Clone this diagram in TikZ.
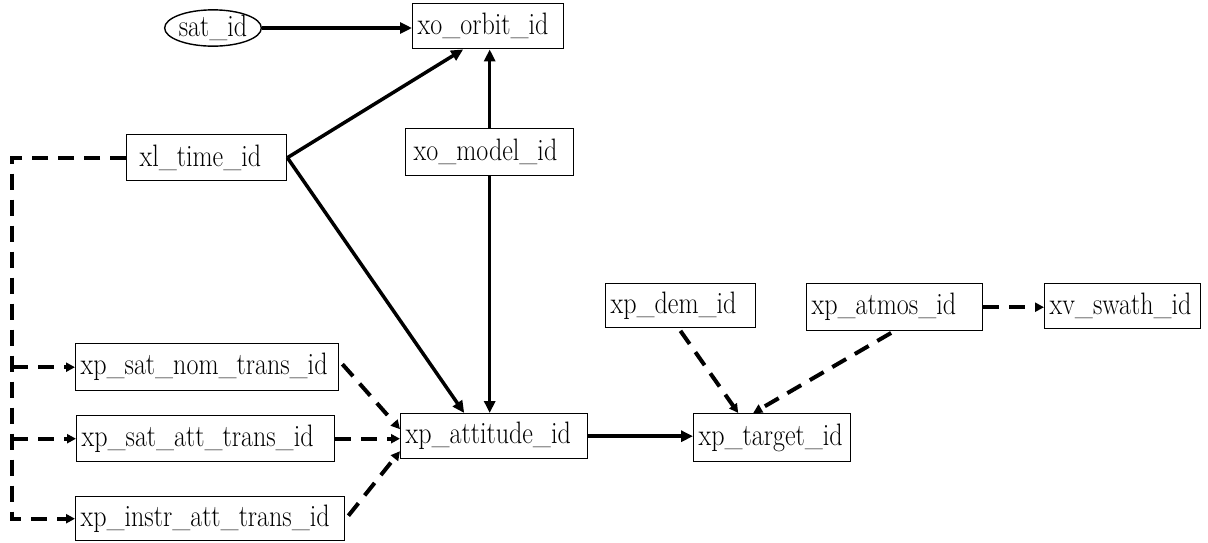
\documentclass[tikz,border=0pt]{standalone}
\usepackage{fontspec}
\newfontfamily\tnr{Latin Modern Roman}[FakeStretch=0.84]
\usetikzlibrary{arrows.meta,shapes.geometric,calc}
\begin{document}
\begin{tikzpicture}[x=1pt,y=-1pt,
  box/.style={draw, line width=1.4pt, inner xsep=5pt, inner ysep=0pt, align=left,
    font=\tnr\fontsize{31}{32}\selectfont, anchor=north west},
  oval/.style={draw, ellipse, line width=1.4pt, inner sep=0pt,
    font=\tnr\fontsize{31}{32}\selectfont},
  sol/.style={line width=3.5pt, -{Triangle[length=12pt,width=11pt]}},
  dsh/.style={line width=4pt, dash pattern=on 16pt off 10pt, -{Triangle[length=9pt,width=9pt]}}]
\useasboundingbox (0,0) rectangle (1208,542);

\node[oval, minimum width=94pt, minimum height=34pt] (sat) at (213,28) {sat\_id};
\node[box, minimum height=45pt, text width=141pt] (orbit) at (412,3) {xo\_orbit\_id};
\node[box, minimum height=46pt, text width=134pt, inner xsep=13pt] (time) at (126,134) {xl\_time\_id};
\node[box, minimum height=47pt, text width=152pt, inner xsep=8pt] (model) at (405,128) {xo\_model\_id};
\node[box, minimum height=44pt, text width=140pt] (dem) at (605,283) {xp\_dem\_id};
\node[box, minimum height=47pt, text width=166pt] (atmos) at (806,283) {xp\_atmos\_id};
\node[box, minimum height=45pt, text width=146pt] (swath) at (1044,283) {xv\_swath\_id};
\node[box, minimum height=47pt, text width=253pt] (nom) at (75,343) {xp\_sat\_nom\_trans\_id};
\node[box, minimum height=46pt, text width=248pt] (satt) at (76,415) {xp\_sat\_att\_trans\_id};
\node[box, minimum height=44pt, text width=259pt] (instr) at (75,496) {xp\_instr\_att\_trans\_id};
\node[box, minimum height=45pt, text width=177pt] (att) at (400,413) {xp\_attitude\_id};
\node[box, minimum height=48pt, text width=147pt] (target) at (693,413) {xp\_target\_id};

\coordinate (bus) at (12,0);

% solid connectors
\draw[sol] (sat.east) -- (sat.east -| orbit.west);
\draw[sol] (time.east) -- ($(orbit.south)+(-25,0)$);
\draw[sol] (time.east) -- ($(att.north)+(-30,0)$);
\draw[sol] (model.north) -- (model.north |- orbit.south);
\draw[sol] (model.south) -- (model.south |- att.north);
\draw[sol] (att.east) -- (att.east -| target.west);

% dashed connectors
\draw[dsh] (time.west) -| (bus |- instr.west) -- (instr.west);
\draw[dsh] (bus |- nom.west) -- (nom.west);
\draw[dsh] (bus |- satt.west) -- (satt.west);
\draw[dsh] ($(nom.east)+(3,-3)$) -- ($(att.west)+(0,-7)$);
\draw[dsh] (satt.east) -- (satt.east -| att.west);
\draw[dsh] ($(instr.east)+(3,-3)$) -- ($(att.west)+(0,15)$);
\draw[dsh, shorten <=3pt] ($(dem.south)+(-2,0)$) -- ($(target.north)+(-34,0)$);
\draw[dsh, shorten <=3pt] ($(atmos.south)+(-1,0)$) -- ($(target.north)+(-19,0)$);
\draw[dsh] (atmos.east) -- (atmos.east -| swath.west);
\end{tikzpicture}
\end{document}
